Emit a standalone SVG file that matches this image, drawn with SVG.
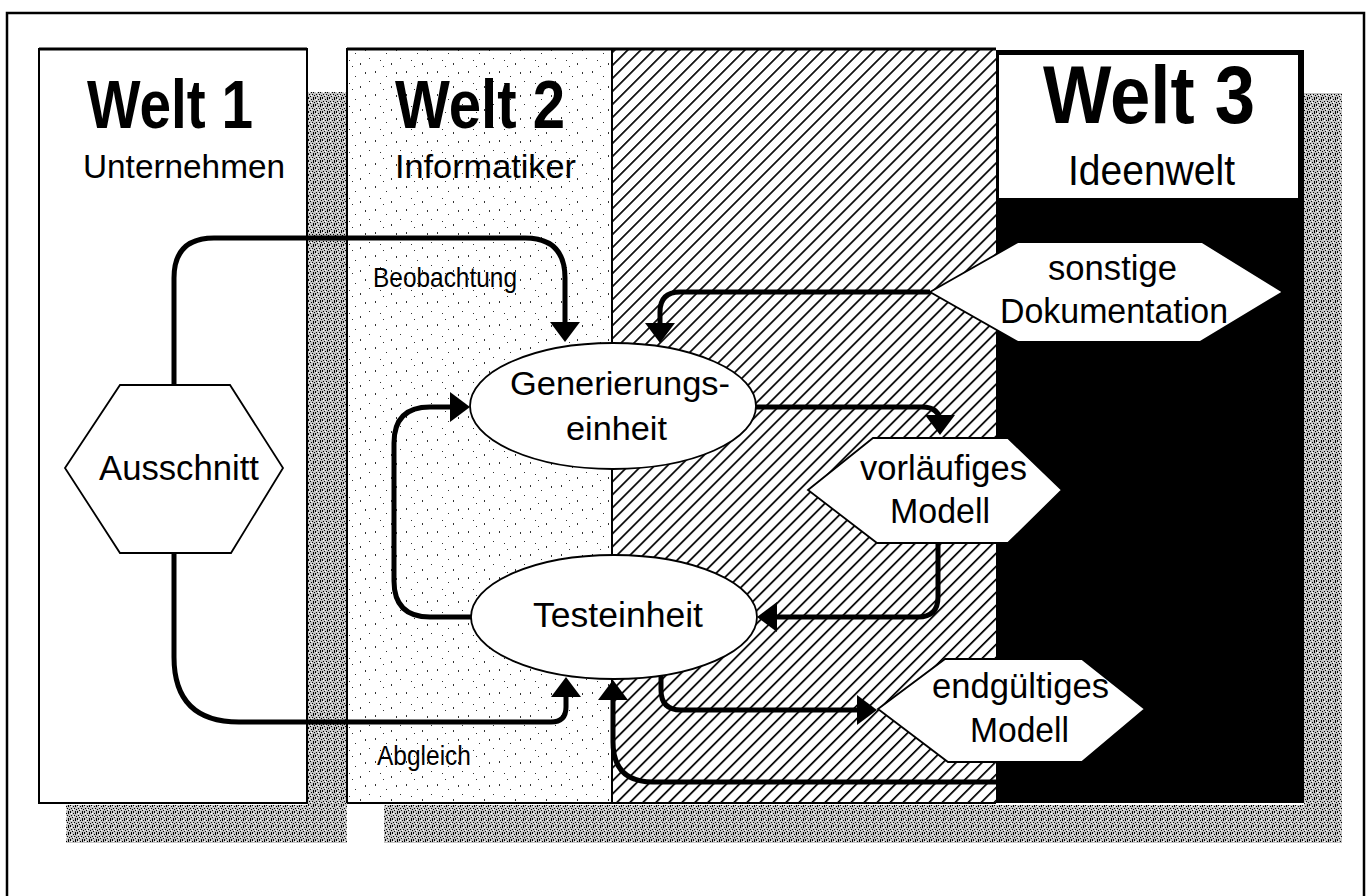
<svg xmlns="http://www.w3.org/2000/svg" width="1370" height="896" viewBox="0 0 1370 896">
<style>
.t{font-family:"Liberation Sans",Arial,sans-serif;fill:#000}
.b{font-weight:bold}
.node{fill:#fff;stroke:#000;stroke-width:1.8}
.con{fill:none;stroke:#000;stroke-width:5;stroke-linejoin:round}
.edge{stroke:#000;stroke-width:2;fill:none}
</style>
<defs>
<marker id="ah" markerUnits="userSpaceOnUse" viewBox="0 0 20 30" markerWidth="20" markerHeight="30" refX="8" refY="15" orient="auto">
<path d="M0,0 L20,15 L0,30 z" fill="#000"/>
</marker>
<pattern id="grain" patternUnits="userSpaceOnUse" width="7" height="7">
<rect width="7" height="7" fill="#c4c4c4"/>
<rect x="0" y="0" width="1" height="1" fill="#000"/>
<rect x="3" y="1" width="1" height="1" fill="#000"/>
<rect x="5" y="0" width="1" height="2" fill="#000"/>
<rect x="1" y="3" width="1" height="1" fill="#000"/>
<rect x="4" y="3" width="1" height="1" fill="#000"/>
<rect x="6" y="4" width="1" height="1" fill="#000"/>
<rect x="2" y="5" width="1" height="1" fill="#000"/>
<rect x="0" y="6" width="1" height="1" fill="#000"/>
<rect x="5" y="6" width="1" height="1" fill="#000"/>
<rect x="3" y="4" width="1" height="1" fill="#fff"/>
<rect x="1" y="1" width="1" height="1" fill="#fff"/>
</pattern>
<pattern id="dots" patternUnits="userSpaceOnUse" width="31" height="23">
<rect width="31" height="23" fill="#fff"/>
<rect x="3" y="2" width="1" height="2" fill="#333"/>
<rect x="14" y="7" width="1" height="1" fill="#333"/>
<rect x="24" y="3" width="1" height="2" fill="#333"/>
<rect x="8" y="14" width="1" height="1" fill="#333"/>
<rect x="19" y="17" width="1" height="2" fill="#333"/>
<rect x="28" y="12" width="1" height="1" fill="#333"/>
<rect x="11" y="20" width="1" height="1" fill="#333"/>
</pattern>
<pattern id="hatch" patternUnits="userSpaceOnUse" width="9.2" height="9.2" patternTransform="rotate(45)">
<rect width="9.2" height="9.2" fill="#fff"/>
<line x1="0" y1="0" x2="0" y2="9.2" stroke="#000" stroke-width="3.4"/>
</pattern>
</defs>

<rect width="1370" height="896" fill="#fff"/>
<path d="M7,896 V13 H1364 V896" fill="none" stroke="#000" stroke-width="2.5"/>

<g id="background">
<rect x="308" y="92" width="39" height="751" fill="url(#grain)"/>
<rect x="66" y="805" width="281" height="38" fill="url(#grain)"/>
<rect x="1304" y="93" width="38" height="750" fill="url(#grain)"/>
<rect x="384" y="805" width="958" height="38" fill="url(#grain)"/>
</g>

<g id="welt1">
<rect x="39" y="49" width="268" height="754" fill="#fff" stroke="#000" stroke-width="2"/>
<line x1="39" y1="49" x2="307" y2="49" stroke="#000" stroke-width="3"/>
<text class="t b" x="87" y="128" font-size="68" textLength="166" lengthAdjust="spacingAndGlyphs">Welt 1</text>
<text class="t" x="83" y="178" font-size="34" textLength="202" lengthAdjust="spacingAndGlyphs">Unternehmen</text>
</g>

<g id="welt2">
<rect x="347" y="49" width="265" height="754" fill="url(#dots)"/>
<rect x="612" y="49" width="384" height="754" fill="url(#hatch)"/>
<path d="M347,803 V49 H996 M347,803 H996 M612,49 V803" class="edge"/>
<line x1="347" y1="49" x2="996" y2="49" stroke="#000" stroke-width="3"/>
<text class="t b" x="395" y="128" font-size="68" textLength="170" lengthAdjust="spacingAndGlyphs">Welt 2</text>
<text class="t" x="395" y="178" font-size="34" textLength="181" lengthAdjust="spacingAndGlyphs">Informatiker</text>
<text class="t" x="373" y="287" font-size="28" textLength="144" lengthAdjust="spacingAndGlyphs">Beobachtung</text>
<text class="t" x="377" y="765" font-size="28" textLength="94" lengthAdjust="spacingAndGlyphs">Abgleich</text>
</g>

<g id="welt3">
<rect x="996" y="50" width="308" height="753" fill="#000"/>
<rect x="999" y="55" width="299" height="143" fill="#fff"/>
<text class="t b" x="1043" y="123" font-size="81" textLength="212" lengthAdjust="spacingAndGlyphs">Welt 3</text>
<text class="t" x="1068" y="185" font-size="43" textLength="167" lengthAdjust="spacingAndGlyphs">Ideenwelt</text>
</g>

<g id="connectors">
<path class="con" d="M174,385 V278 Q174,238 214,238 H525 Q565,238 565,278 V330" marker-end="url(#ah)"/>
<path class="con" d="M174,553 V657 Q174,722 239,722 H551 Q566,722 566,707 V689" marker-end="url(#ah)"/>
<path class="con" d="M471,617 H430 Q394,617 394,581 V443 Q394,407 430,407 H458" marker-end="url(#ah)"/>
<path class="con" d="M755,407 H922 Q940,407 940,423" marker-end="url(#ah)"/>
<path class="con" d="M930,292 H680 Q660,292 660,312 V331" marker-end="url(#ah)"/>
<path class="con" d="M938,543 V597 Q938,617 918,617 H769" marker-end="url(#ah)"/>
<path class="con" d="M661,672 V690 Q661,710 681,710 H865" marker-end="url(#ah)"/>
<path class="con" d="M996,782 H653 Q613,782 613,742 V692" marker-end="url(#ah)"/>
</g>

<g id="ausschnitt">
<polygon class="node" points="65,468 120,385 230,385 283,468 231,553 120,553"/>
<text class="t" x="99" y="480" font-size="35" textLength="160" lengthAdjust="spacingAndGlyphs">Ausschnitt</text>
</g>

<g id="generierungseinheit">
<ellipse class="node" cx="613" cy="406" rx="143" ry="63"/>
<text class="t" x="510" y="395" font-size="34" textLength="220" lengthAdjust="spacingAndGlyphs">Generierungs-</text>
<text class="t" x="566" y="440" font-size="34" textLength="101" lengthAdjust="spacingAndGlyphs">einheit</text>
</g>

<g id="testeinheit">
<ellipse class="node" cx="614" cy="617" rx="143" ry="62"/>
<text class="t" x="533" y="627" font-size="35" textLength="170" lengthAdjust="spacingAndGlyphs">Testeinheit</text>
</g>

<g id="sonstige-dokumentation">
<polygon class="node" points="930,292 1018,242 1202,242 1283,292 1200,342 1018,342"/>
<text class="t" x="1048" y="280" font-size="35" textLength="129" lengthAdjust="spacingAndGlyphs">sonstige</text>
<text class="t" x="1000" y="323" font-size="35" textLength="228" lengthAdjust="spacingAndGlyphs">Dokumentation</text>
</g>

<g id="vorlaeufiges-modell">
<polygon class="node" points="808,490 873,438 1008,438 1062,490 1008,543 877,543"/>
<text class="t" x="860" y="480" font-size="35" textLength="167" lengthAdjust="spacingAndGlyphs">vorläufiges</text>
<text class="t" x="890" y="523" font-size="35" textLength="100" lengthAdjust="spacingAndGlyphs">Modell</text>
</g>

<g id="endgueltiges-modell">
<polygon class="node" points="878,709 945,659 1082,659 1145,709 1082,762 948,762"/>
<text class="t" x="932" y="698" font-size="35" textLength="177" lengthAdjust="spacingAndGlyphs">endgültiges</text>
<text class="t" x="970" y="742" font-size="35" textLength="99" lengthAdjust="spacingAndGlyphs">Modell</text>
</g>
</svg>
